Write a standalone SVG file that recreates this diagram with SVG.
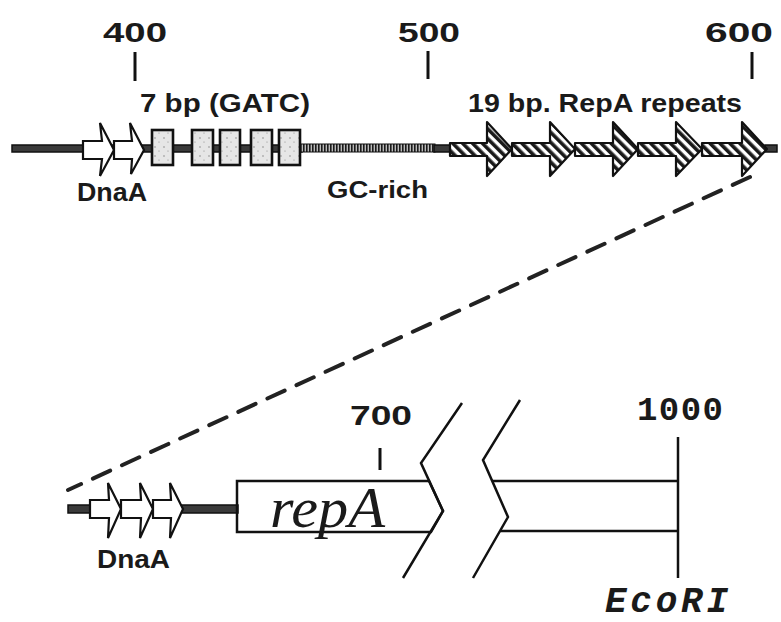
<svg xmlns="http://www.w3.org/2000/svg" width="781" height="622" viewBox="0 0 781 622">
<defs>
<pattern id="hatch" width="7" height="7" patternUnits="userSpaceOnUse" patternTransform="rotate(-45)">
<rect width="7" height="7" fill="#fff"/>
<rect width="3.6" height="7" fill="#1a1a1a"/>
</pattern>
<pattern id="gc" width="3" height="10" patternUnits="userSpaceOnUse">
<rect width="3" height="10" fill="#bbb"/>
<rect width="1.6" height="10" fill="#1a1a1a"/>
</pattern>
<pattern id="dots" width="9" height="9" patternUnits="userSpaceOnUse">
<rect width="9" height="9" fill="#e6e6e6"/>
<circle cx="2" cy="3" r="0.7" fill="#777"/>
<circle cx="6" cy="7" r="0.6" fill="#888"/>
</pattern>
</defs>
<style>
.lbl{font-family:"Liberation Sans",Arial,sans-serif;font-weight:bold;fill:#1a1a1a}
.mono{font-family:"Liberation Mono","Courier New",monospace;font-weight:bold;fill:#1a1a1a}
.dna{fill:#3a3a3a;stroke:#111;stroke-width:1.5}
.open{fill:#fff;stroke:#111;stroke-width:2.2;stroke-linejoin:miter}
.box{fill:url(#dots);stroke:#111;stroke-width:2.6}
.rep{fill:url(#hatch);stroke:#111;stroke-width:2.2;stroke-linejoin:round}
.tick{stroke:#111;stroke-width:3;fill:none}
.ln{stroke:#111;stroke-width:2.5;fill:none;stroke-linejoin:miter}
</style>

<g id="scale-top">
<text class="lbl" x="103" y="42" font-size="28" textLength="64" lengthAdjust="spacingAndGlyphs">400</text>
<text class="lbl" x="398" y="42" font-size="28" textLength="62" lengthAdjust="spacingAndGlyphs">500</text>
<text class="lbl" x="705" y="42" font-size="28" textLength="68" lengthAdjust="spacingAndGlyphs">600</text>
<line class="tick" x1="135" y1="52" x2="135" y2="81"/>
<line class="tick" x1="428" y1="51" x2="428" y2="79"/>
<line class="tick" x1="752" y1="52" x2="752" y2="79"/>
</g>

<g id="top-backbone">
<rect class="dna" x="12" y="145" width="290" height="7"/>
<rect x="300" y="144" width="135" height="8" fill="url(#gc)" stroke="#111" stroke-width="1"/>
<rect class="dna" x="434" y="145" width="18" height="7"/>
<rect class="dna" x="765" y="145" width="12" height="7"/>
</g>

<g id="dnaA-top">
<polygon class="open" points="83,141 102,141 100,123 114,150 100,176 102,159 83,159"/>
<polygon class="open" points="114,141 132,141 130,123 144,150 131,174 132,159 114,159"/>
<text class="lbl" x="77" y="201" font-size="25" textLength="70" lengthAdjust="spacingAndGlyphs">DnaA</text>
</g>

<g id="gatc-boxes">
<rect class="box" x="152" y="130" width="21" height="35"/>
<rect class="box" x="192" y="130" width="21" height="35"/>
<rect class="box" x="220" y="130" width="20" height="35"/>
<rect class="box" x="251" y="130" width="21" height="35"/>
<rect class="box" x="279" y="130" width="21" height="35"/>
<text class="lbl" x="140" y="112" font-size="25" textLength="170" lengthAdjust="spacingAndGlyphs">7 bp (GATC)</text>
</g>

<g id="gc-rich">
<text class="lbl" x="327" y="198" font-size="23" textLength="101" lengthAdjust="spacingAndGlyphs">GC-rich</text>
</g>

<g id="repA-repeats">
<polygon class="rep" points="450,143 487,143 487,122 512,149 487,176 487,156 450,156"/>
<polygon class="rep" points="512,143 550,143 550,122 575,149 550,176 550,156 512,156"/>
<polygon class="rep" points="575,143 613,143 613,122 638,149 613,176 613,156 575,156"/>
<polygon class="rep" points="638,143 676,143 676,122 702,149 676,176 676,156 638,156"/>
<polygon class="rep" points="702,143 742,143 742,122 767,149 742,176 742,156 702,156"/>
<text class="lbl" x="468" y="112" font-size="25" textLength="274" lengthAdjust="spacingAndGlyphs">19 bp. RepA repeats</text>
</g>

<g id="connectors">
<line x1="750" y1="177" x2="68" y2="490" stroke="#222" stroke-width="4" stroke-dasharray="19 13" stroke-linecap="round"/>
</g>

<g id="bottom-backbone">
<rect class="dna" x="68" y="505" width="170" height="8"/>
</g>

<g id="dnaA-bottom">
<polygon class="open" points="90,500 109,500 108,483 121,509 108,538 109,518 90,518"/>
<polygon class="open" points="121,500 141,500 140,483 153,509 140,538 141,518 121,518"/>
<polygon class="open" points="153,500 171,500 170,483 183,509 170,538 171,518 153,518"/>
<text class="lbl" x="97" y="568" font-size="25" textLength="73" lengthAdjust="spacingAndGlyphs">DnaA</text>
</g>

<g id="repA-gene">
<polygon class="ln" fill="#fff" points="237,481 429,481 443,511 431,532 237,532"/>
<polyline class="ln" points="462,403 421,463 443,511 403,578"/>
<text x="270" y="527" font-family="'Liberation Serif','Times New Roman',serif" font-style="italic" font-size="56" fill="#1a1a1a" textLength="115" lengthAdjust="spacingAndGlyphs">repA</text>
<line class="tick" x1="380" y1="448" x2="380" y2="470"/>
<text class="lbl" x="350" y="425" font-size="28" textLength="62" lengthAdjust="spacingAndGlyphs">700</text>
</g>

<g id="repA-end">
<polyline class="ln" points="492,481 678,481"/>
<polyline class="ln" points="500,531 678,531"/>
<polyline class="ln" points="520,400 483,460 508,517 473,578"/>
<line class="ln" x1="678" y1="437" x2="678" y2="578"/>
<text class="mono" x="637" y="420" font-size="34" textLength="86" lengthAdjust="spacing">1000</text>
<text class="mono" x="605" y="612" font-size="36" font-style="italic" textLength="123" lengthAdjust="spacing">EcoRI</text>
</g>
</svg>
